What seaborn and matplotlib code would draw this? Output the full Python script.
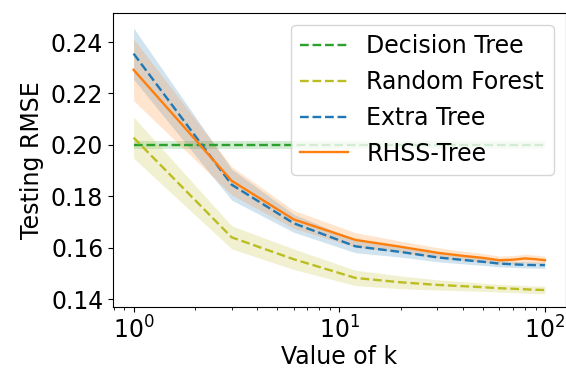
import matplotlib
matplotlib.use("Agg")
import matplotlib.pyplot as plt
import seaborn as sns
import numpy as np
import pandas as pd

# ---- data ----
k_values = [1, 3, 6, 12, 20, 30, 40, 50, 60, 70, 80, 90, 100]

dt_mean = [0.2000] * 13
dt_err = [0.0015] * 13

rf_mean = [0.2028, 0.1640, 0.1555, 0.1482, 0.1465, 0.1455, 0.1450, 0.1446, 0.1442, 0.1440, 0.1438, 0.1436, 0.1435]
rf_err = [0.0080, 0.0045, 0.0040, 0.0030, 0.0025, 0.0020, 0.0018, 0.0016, 0.0015, 0.0015, 0.0015, 0.0015, 0.0015]

et_mean = [0.2355, 0.1845, 0.1695, 0.1605, 0.1583, 0.1562, 0.1552, 0.1545, 0.1538, 0.1535, 0.1533, 0.1532, 0.1532]
et_err = [0.0100, 0.0060, 0.0035, 0.0025, 0.0020, 0.0017, 0.0015, 0.0014, 0.0013, 0.0012, 0.0012, 0.0012, 0.0012]

rh_mean = [0.2292, 0.1860, 0.1710, 0.1630, 0.1603, 0.1580, 0.1568, 0.1560, 0.1551, 0.1553, 0.1558, 0.1555, 0.1551]
rh_err = [0.0120, 0.0055, 0.0035, 0.0028, 0.0022, 0.0020, 0.0018, 0.0017, 0.0016, 0.0016, 0.0016, 0.0016, 0.0016]

series_names = ["Decision Tree", "Random Forest", "Extra Tree", "RHSS-Tree"]
series_colors = ["tab:green", "tab:olive", "tab:blue", "tab:orange"]
series_styles = ["--", "--", "--", "-"]

means = [dt_mean, rf_mean, et_mean, rh_mean]
errs = [dt_err, rf_err, et_err, rh_err]

plt.rcParams["font.family"] = ["DejaVu Sans"]
plt.rcParams["font.size"] = 17

fig = plt.figure(figsize=(5.66, 3.70), dpi=100)
ax = fig.add_axes([113 / 566, 1 - 307 / 370, (565.5 - 113) / 566, (307 - 13) / 370])

for name, color, ls, m, e in zip(series_names, series_colors, series_styles, means, errs):
    df = pd.DataFrame({"k": k_values, "rmse": m})
    sns.lineplot(data=df, x="k", y="rmse", ax=ax, color=color, linestyle=ls,
                 linewidth=1.7, label=name)
    lo = np.array(m) - np.array(e)
    hi = np.array(m) + np.array(e)
    ax.fill_between(k_values, lo, hi, color=color, alpha=0.2, linewidth=0)

ax.set_xscale("log")
ax.set_ylim(0.1369, 0.2513)
ax.set_yticks([0.14, 0.16, 0.18, 0.20, 0.22, 0.24])
ax.set_yticklabels(["0.14", "0.16", "0.18", "0.20", "0.22", "0.24"])
ax.set_xlabel("Value of k", fontsize=17, labelpad=1)
ax.set_ylabel("Testing RMSE", fontsize=17, labelpad=5)
ax.tick_params(labelsize=17)
ax.legend(loc="upper right", fontsize=17)

fig.savefig("out.png", dpi=100)
